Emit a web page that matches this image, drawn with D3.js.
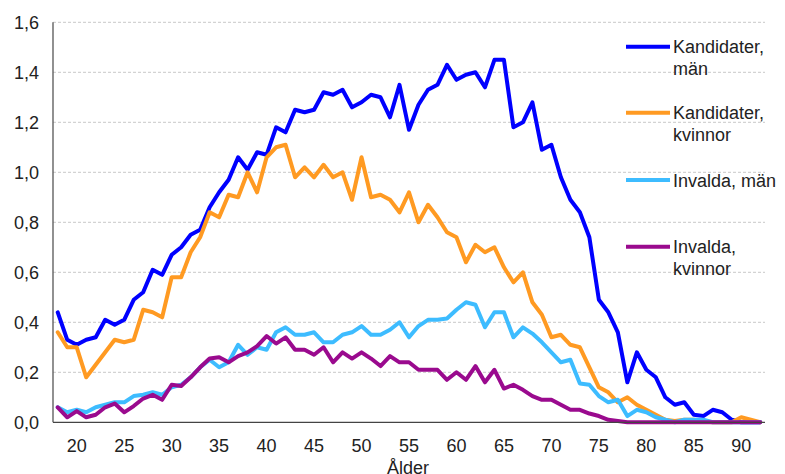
<!DOCTYPE html>
<html>
<head>
<meta charset="utf-8">
<script src="https://cdn.jsdelivr.net/npm/d3@7"></script>
<style>
body { margin: 0; background: #fff; }
text { font-family: "Liberation Sans", Arial, sans-serif; fill: #222; }
.grid line { stroke: #c8c8c8; stroke-dasharray: 3,2; }
.series { fill: none; stroke-width: 4; stroke-linejoin: round; stroke-linecap: round; }
</style>
</head>
<body>
<svg width="785" height="474"></svg>
<script>
var ages = [18, 19, 20, 21, 22, 23, 24, 25, 26, 27, 28, 29, 30, 31, 32, 33, 34, 35, 36, 37,
  38, 39, 40, 41, 42, 43, 44, 45, 46, 47, 48, 49, 50, 51, 52, 53, 54, 55, 56, 57,
  58, 59, 60, 61, 62, 63, 64, 65, 66, 67, 68, 69, 70, 71, 72, 73, 74, 75, 76, 77,
  78, 79, 80, 81, 82, 83, 84, 85, 86, 87, 88, 89, 90, 91, 92];

var kandidaterMan = [0.44, 0.33, 0.31, 0.33, 0.34, 0.41, 0.39, 0.41, 0.49, 0.52, 0.61, 0.59, 0.67, 0.70, 0.75, 0.77, 0.86, 0.92, 0.97, 1.06,
  1.01, 1.08, 1.07, 1.18, 1.16, 1.25, 1.24, 1.25, 1.32, 1.31, 1.33, 1.26, 1.28, 1.31, 1.30, 1.22, 1.35, 1.17, 1.27, 1.33,
  1.35, 1.43, 1.37, 1.39, 1.40, 1.34, 1.45, 1.45, 1.18, 1.20, 1.28, 1.09, 1.11, 0.98, 0.89, 0.84, 0.74, 0.49, 0.44, 0.36,
  0.16, 0.28, 0.21, 0.18, 0.10, 0.07, 0.08, 0.03, 0.025, 0.05, 0.04, 0.01, 0, 0, 0];

var kandidaterKvinnor = [0.36, 0.30, 0.30, 0.18, 0.23, 0.28, 0.33, 0.32, 0.33, 0.45, 0.44, 0.42, 0.58, 0.58, 0.68, 0.74, 0.84, 0.82, 0.91, 0.90,
  1.00, 0.92, 1.06, 1.10, 1.11, 0.98, 1.02, 0.98, 1.03, 0.98, 1.00, 0.89, 1.06, 0.90, 0.91, 0.89, 0.84, 0.92, 0.80, 0.87,
  0.82, 0.76, 0.74, 0.64, 0.71, 0.68, 0.70, 0.62, 0.56, 0.60, 0.48, 0.43, 0.34, 0.35, 0.31, 0.30, 0.22, 0.14, 0.12, 0.08,
  0.10, 0.07, 0.05, 0.03, 0.01, 0.005, 0.01, 0.01, 0.005, 0, 0, 0, 0.02, 0.01, 0];

var invaldaMan = [0.06, 0.04, 0.05, 0.04, 0.06, 0.07, 0.08, 0.08, 0.105, 0.11, 0.12, 0.11, 0.14, 0.15, 0.18, 0.22, 0.25, 0.22, 0.24, 0.31,
  0.27, 0.30, 0.29, 0.36, 0.38, 0.35, 0.35, 0.36, 0.32, 0.32, 0.35, 0.36, 0.385, 0.35, 0.35, 0.37, 0.40, 0.34, 0.385, 0.41,
  0.41, 0.415, 0.45, 0.48, 0.47, 0.38, 0.44, 0.44, 0.34, 0.38, 0.355, 0.32, 0.28, 0.24, 0.25, 0.155, 0.15, 0.105, 0.08, 0.09,
  0.025, 0.05, 0.04, 0.02, 0.01, 0, 0.01, 0.01, 0.01, 0, 0, 0, 0, 0, 0];

var invaldaKvinnor = [0.06, 0.02, 0.045, 0.02, 0.03, 0.06, 0.075, 0.04, 0.065, 0.095, 0.11, 0.09, 0.15, 0.145, 0.18, 0.22, 0.255, 0.26, 0.24, 0.265,
  0.28, 0.305, 0.345, 0.315, 0.34, 0.29, 0.29, 0.27, 0.30, 0.24, 0.28, 0.255, 0.28, 0.255, 0.225, 0.265, 0.24, 0.24, 0.21, 0.21,
  0.21, 0.17, 0.20, 0.17, 0.225, 0.16, 0.21, 0.135, 0.15, 0.13, 0.105, 0.09, 0.09, 0.07, 0.05, 0.05, 0.035, 0.025, 0.01, 0.005,
  0, 0, 0, 0, 0, 0, 0, 0, 0, 0, 0, 0, 0, 0, 0];

var xTicks = [20, 25, 30, 35, 40, 45, 50, 55, 60, 65, 70, 75, 80, 85, 90];
var yTicks = [0, 0.2, 0.4, 0.6, 0.8, 1.0, 1.2, 1.4, 1.6];

var seriesNames = [["Kandidater,", "män"], ["Kandidater,", "kvinnor"], ["Invalda, män"], ["Invalda,", "kvinnor"]];
var seriesValues = [kandidaterMan, kandidaterKvinnor, invaldaMan, invaldaKvinnor];
var colors = ["#0000ff", "#ff9a22", "#3dbcff", "#9a0a8e"];

var svg = d3.select("svg");
var plotLeft = 53, plotRight = 765, plotTop = 22.3, plotBottom = 422.3;

var x = d3.scalePoint()
  .domain(ages)
  .range([plotLeft, plotRight])
  .padding(0.5);

var y = d3.scaleLinear()
  .domain([0, 1.6])
  .range([plotBottom, plotTop]);

var fmt = function(d) { return d3.format(".1f")(d).replace(".", ","); };

// gridlines
svg.append("g")
  .attr("class", "grid")
  .selectAll("line")
  .data(yTicks.filter(function(d) { return d > 0; }))
  .enter().append("line")
  .attr("x1", plotLeft)
  .attr("x2", plotRight)
  .attr("y1", function(d) { return y(d); })
  .attr("y2", function(d) { return y(d); });

// y labels
svg.append("g")
  .selectAll("text")
  .data(yTicks)
  .enter().append("text")
  .attr("x", 39)
  .attr("y", function(d) { return y(d); })
  .attr("dy", "0.36em")
  .attr("text-anchor", "end")
  .style("font-size", "18px")
  .text(fmt);

// x labels
svg.append("g")
  .selectAll("text")
  .data(xTicks)
  .enter().append("text")
  .attr("x", function(d) { return x(d); })
  .attr("y", 451.5)
  .attr("text-anchor", "middle")
  .style("font-size", "18px")
  .text(function(d) { return d; });

svg.append("text")
  .attr("x", 408)
  .attr("y", 474)
  .attr("text-anchor", "middle")
  .style("font-size", "18px")
  .text("Ålder");

// axes lines
svg.append("line")
  .attr("x1", plotLeft).attr("x2", plotLeft)
  .attr("y1", plotTop).attr("y2", plotBottom)
  .attr("stroke", "#555").attr("stroke-width", 1.3);

var line = d3.line()
  .x(function(d, i) { return x(ages[i]); })
  .y(function(d) { return y(d); });

svg.selectAll(".series")
  .data(seriesValues)
  .enter().append("path")
  .attr("class", "series")
  .attr("stroke", function(d, i) { return colors[i]; })
  .attr("d", line);

svg.append("line")
  .attr("x1", plotLeft).attr("x2", plotRight)
  .attr("y1", plotBottom).attr("y2", plotBottom)
  .attr("stroke", "#444").attr("stroke-width", 1.3);

// legend
var legendY = [46.7, 112.7, 180, 246.7];
var legend = svg.selectAll(".legend")
  .data(seriesNames)
  .enter().append("g")
  .attr("class", "legend")
  .attr("transform", function(d, i) { return "translate(0," + legendY[i] + ")"; });

legend.append("line")
  .attr("x1", 626).attr("x2", 670)
  .attr("stroke", function(d, i) { return colors[i]; })
  .attr("stroke-width", 4);

legend.append("text")
  .attr("x", 673)
  .attr("y", 6.5)
  .style("font-size", "18px")
  .selectAll("tspan")
  .data(function(d) { return d; })
  .enter().append("tspan")
  .attr("x", 673)
  .attr("dy", function(d, i) { return i ? 21.5 : 0; })
  .text(function(d) { return d; });
</script>
</body>
</html>
